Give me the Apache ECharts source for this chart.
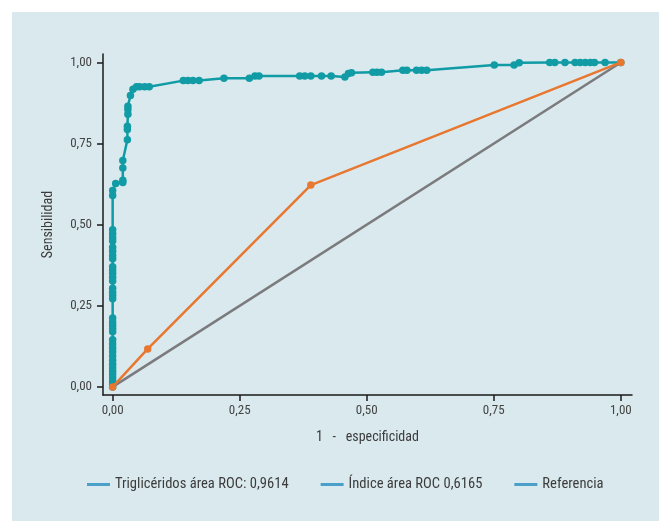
<!DOCTYPE html>
<html>
<head>
<meta charset="utf-8">
<script src="https://cdn.jsdelivr.net/npm/echarts@6/dist/echarts.min.js"></script>
<style>
  html, body { margin: 0; padding: 0; background: #fff; }
  #chart { width: 659px; height: 521px; }
</style>
</head>
<body>
<div id="chart"></div>
<script>
// curva ROC de triglicéridos (1 - especificidad / sensibilidad)
var triFpr = [0, 0, 0, 0, 0, 0, 0, 0, 0, 0, 0, 0, 0, 0, 0, 0, 0, 0, 0, 0, 0, 0, 0, 0, 0, 0, 0, 0, 0, 0, 0, 0, 0, 0, 0, 0, 0, 0,
  0.006, 0.02, 0.02, 0.02, 0.02, 0.029, 0.029, 0.029, 0.03, 0.03, 0.03, 0.035, 0.04, 0.047, 0.053, 0.063, 0.072,
  0.139, 0.148, 0.158, 0.17, 0.219, 0.269, 0.28, 0.288, 0.368, 0.378, 0.39, 0.411, 0.43, 0.457, 0.464, 0.47,
  0.512, 0.52, 0.529, 0.571, 0.579, 0.598, 0.608, 0.618, 0.751, 0.79, 0.8,
  0.86, 0.87, 0.89, 0.91, 0.92, 0.93, 0.94, 0.948, 0.969, 1]
var triTpr = [0, 0.008, 0.018, 0.028, 0.038, 0.048, 0.058, 0.07, 0.082, 0.095, 0.108, 0.12, 0.132, 0.145, 0.17, 0.18, 0.19, 0.2, 0.212,
  0.272, 0.282, 0.292, 0.304, 0.326, 0.338, 0.35, 0.36, 0.37, 0.395, 0.405, 0.418, 0.43, 0.45, 0.46, 0.472, 0.484, 0.59, 0.605,
  0.627, 0.63, 0.637, 0.675, 0.698, 0.762, 0.793, 0.803, 0.84, 0.855, 0.865, 0.898, 0.917, 0.925, 0.925, 0.925, 0.925,
  0.944, 0.944, 0.944, 0.944, 0.951, 0.951, 0.958, 0.958, 0.958, 0.958, 0.958, 0.958, 0.958, 0.955, 0.966, 0.968,
  0.97, 0.97, 0.97, 0.976, 0.976, 0.976, 0.976, 0.976, 0.992, 0.992, 0.999,
  1, 1, 1, 1, 1, 1, 1, 1, 1, 1]

// índice
var idxFpr = [0, 0.069, 0.39, 1]
var idxTpr = [0, 0.117, 0.622, 1]

// referencia (diagonal)
var refFpr = [0, 1]
var refTpr = [0, 1]

var tickValues = [0, 0.25, 0.5, 0.75, 1]
var seriesNames = ['Triglicéridos área ROC: 0,9614', 'Índice área ROC 0,6165', 'Referencia']

function pairs(xs, ys) {
  return xs.map(function (x, i) { return [x, ys[i]] })
}
function fmt(v) {
  return v.toFixed(2).replace('.', ',')
}

var FONT = '"Liberation Sans Narrow", "Roboto Condensed", "Liberation Sans", sans-serif'

var chart = echarts.init(document.getElementById('chart'))
chart.setOption({
  backgroundColor: '#ffffff',
  animation: false,
  textStyle: { fontFamily: FONT },
  graphic: [
    {
      type: 'rect',
      z: -10,
      silent: true,
      shape: { x: 12, y: 12, width: 647, height: 509 },
      style: { fill: '#d9e9ee' },
    },
  ],
  grid: {
    left: 103,
    right: 27,
    top: 54,
    bottom: 126,
  },
  legend: {
    left: 82,
    top: 472,
    itemGap: 32,
    itemWidth: 23,
    itemHeight: 3,
    icon: 'rect',
    textStyle: { fontFamily: FONT, fontSize: 14.6, color: '#3c3c3c' },
    data: seriesNames.map(function (n) {
      return { name: n, icon: 'rect', itemStyle: { color: '#4aa0c8' } }
    }),
  },
  xAxis: {
    type: 'value',
    min: -0.019,
    max: 1.022,
    name: '1   -   especificidad',
    nameLocation: 'middle',
    nameGap: 35,
    nameTextStyle: { fontFamily: FONT, fontSize: 14, color: '#3c3c3c' },
    splitLine: { show: false },
    axisLine: { onZero: false, lineStyle: { color: '#1a1a1a', width: 1.5 } },
    axisTick: { show: true, length: 6, customValues: tickValues, lineStyle: { color: '#1a1a1a', width: 1.5 } },
    axisLabel: {
      customValues: tickValues,
      margin: 9,
      fontSize: 13,
      color: '#444',
      formatter: fmt,
    },
  },
  yAxis: {
    type: 'value',
    min: -0.025,
    max: 1.026,
    name: 'Sensibilidad',
    nameLocation: 'middle',
    nameGap: 48,
    nameTextStyle: { fontFamily: FONT, fontSize: 14, color: '#3c3c3c' },
    splitLine: { show: false },
    axisLine: { show: true, onZero: false, lineStyle: { color: '#1a1a1a', width: 1.5 } },
    axisTick: { show: true, length: 6, customValues: tickValues, lineStyle: { color: '#1a1a1a', width: 1.5 } },
    axisLabel: {
      customValues: tickValues,
      margin: 11,
      fontSize: 13,
      color: '#444',
      formatter: fmt,
    },
  },
  series: [
    {
      name: seriesNames[0],
      type: 'line',
      data: pairs(triFpr, triTpr),
      symbol: 'circle',
      symbolSize: 7.5,
      showAllSymbol: true,
      itemStyle: { color: '#119ba5' },
      lineStyle: { color: '#119ba5', width: 2.5 },
      z: 2,
    },
    {
      name: seriesNames[2],
      type: 'line',
      data: pairs(refFpr, refTpr),
      symbol: 'none',
      itemStyle: { color: '#7b7b7e' },
      lineStyle: { color: '#7b7b7e', width: 2.5 },
      z: 3,
    },
    {
      name: seriesNames[1],
      type: 'line',
      data: pairs(idxFpr, idxTpr),
      symbol: 'circle',
      symbolSize: 7.5,
      itemStyle: { color: '#e8772f' },
      lineStyle: { color: '#e8772f', width: 2.5 },
      z: 4,
    },
  ],
})
</script>
</body>
</html>
